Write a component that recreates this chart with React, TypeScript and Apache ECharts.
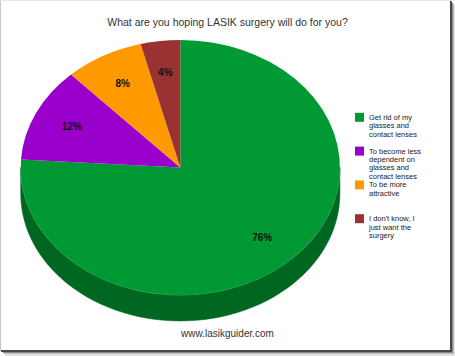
import React, { useEffect, useRef } from 'react';
import * as echarts from 'echarts';

const titleText = 'What are you hoping LASIK surgery will do for you?';
const footerText = 'www.lasikguider.com';
const categories = [
  'Get rid of my\nglasses and\ncontact lenses',
  'To become less\ndependent on\nglasses and\ncontact lenses',
  'To be more\nattractive',
  "I don't know, I\njust want the\nsurgery",
];
const values = [76, 12, 8, 4];
const colors = ['#009933', '#9900cc', '#ff9900', '#993333'];

const W = 455;
const H = 356;
const CX = 180.3;
const CY = 167.5;
const RX = 159.6;
const RY = 127.5;
const DEPTH = 26;
const LABEL_R = 0.75;
const FONT = '"Liberation Sans", Arial, Helvetica, sans-serif';
const LEGEND_LEFT = 355;
const LEGEND_TOP0 = 112.8;
const LEGEND_STEP = 33.8;
const LH = 8.4;

const total = values.reduce((a, b) => a + b, 0);

function shade(hex: string, f: number): string {
  const h = hex.replace('#', '');
  const r = parseInt(h.slice(0, 2), 16);
  const g = parseInt(h.slice(2, 4), 16);
  const b = parseInt(h.slice(4, 6), 16);
  const c = (v: number) => Math.max(0, Math.min(255, Math.round(f >= 1 ? v + (255 - v) * (f - 1) : v * f)));
  return `rgb(${c(r)},${c(g)},${c(b)})`;
}

function makeRender(i: number) {
  return (params: any, api: any) => {
    const v = api.value(0) as number;
    const before = values.slice(0, i).reduce((a, b) => a + b, 0);
    const a0 = -Math.PI / 2 + (2 * Math.PI * before) / total;
    const a1 = a0 + (2 * Math.PI * v) / total;
    const color = colors[i];
    const sideColor = shade(color, 0.67);
    const edgeColor = shade(color, 1.25);
    const children: any[] = [];
    for (let k = -1; k <= 1; k++) {
      const lo = Math.max(a0, 2 * Math.PI * k);
      const hi = Math.min(a1, 2 * Math.PI * k + Math.PI);
      if (hi > lo) {
        const N = 60;
        const top: number[][] = [];
        for (let s = 0; s <= N; s++) {
          const t = lo + ((hi - lo) * s) / N;
          top.push([CX + RX * Math.cos(t), CY + RY * Math.sin(t)]);
        }
        const bottom = top.map((p) => [p[0], p[1] + DEPTH]).reverse();
        children.push({
          type: 'polygon',
          shape: { points: top.concat(bottom) },
          style: { fill: sideColor, stroke: sideColor, lineWidth: 0.5 },
        });
        children.push({
          type: 'polyline',
          shape: { points: top },
          style: { stroke: edgeColor, lineWidth: 1, fill: null, opacity: 0.7 },
        });
      }
    }
    children.push({
      type: 'sector',
      x: CX,
      y: CY,
      scaleY: RY / RX,
      shape: { cx: 0, cy: 0, r: RX, r0: 0, startAngle: a0, endAngle: a1, clockwise: true },
      style: { fill: color },
    });
    const mid = (a0 + a1) / 2;
    children.push({
      type: 'text',
      x: CX + LABEL_R * RX * Math.cos(mid),
      y: CY + LABEL_R * RY * Math.sin(mid),
      style: {
        text: Math.round((v / total) * 100) + '%',
        fill: '#111',
        fontSize: 10,
        fontWeight: 'bold',
        fontFamily: FONT,
        align: 'center',
        verticalAlign: 'middle',
      },
    });
    return { type: 'group', children };
  };
}

export default function App() {
  const ref = useRef<HTMLDivElement>(null);
  useEffect(() => {
    if (!ref.current) return;
    const chart = echarts.init(ref.current, undefined, { renderer: 'svg', width: W, height: H });
    const legends = categories.map((c, i) => {
      const n = c.split('\n').length;
      return {
        data: [c],
        orient: 'vertical',
        left: LEGEND_LEFT,
        top: LEGEND_TOP0 + i * LEGEND_STEP + 4.5 - ((2 * n - 1) * LH) / 2,
        padding: 0,
        itemWidth: 9,
        itemHeight: 9,
        icon: 'rect',
        selectedMode: false,
        formatter: (name: string) => '\n'.repeat(n - 1) + name,
        textStyle: {
          fontSize: 7.5,
          lineHeight: LH,
          color: '#222',
          fontFamily: FONT,
        },
      };
    });
    chart.setOption({
      animation: false,
      backgroundColor: '#ffffff',
      title: [
        {
          text: titleText,
          left: 'center',
          top: 16,
          padding: 0,
          textStyle: { fontSize: 10.5, fontWeight: 'normal', color: '#333', fontFamily: FONT },
        },
        {
          text: footerText,
          left: 'center',
          top: 328,
          padding: 0,
          textStyle: { fontSize: 10, fontWeight: 'normal', color: '#333', fontFamily: FONT },
        },
      ],
      legend: legends,
      series: values.map((v, i) => ({
        type: 'custom',
        name: categories[i],
        coordinateSystem: 'none',
        data: [v],
        itemStyle: { color: colors[i] },
        silent: true,
        renderItem: makeRender(i),
      })),
      graphic: [
        { type: 'rect', shape: { x: 0, y: 0, width: 1, height: 351 }, style: { fill: '#c8c8c8' } },
        { type: 'rect', shape: { x: 0, y: 0, width: 451, height: 1 }, style: { fill: '#e4e4e4' } },
        { type: 'rect', shape: { x: 450, y: 1, width: 2, height: 352 }, style: { fill: '#4a4a4a' } },
        { type: 'rect', shape: { x: 1, y: 350, width: 451, height: 2 }, style: { fill: '#4a4a4a' } },
        { type: 'rect', shape: { x: 452, y: 3, width: 1, height: 351 }, style: { fill: '#8a8a8a' } },
        { type: 'rect', shape: { x: 3, y: 352, width: 450, height: 1 }, style: { fill: '#8a8a8a' } },
        { type: 'rect', shape: { x: 453, y: 4, width: 1, height: 351 }, style: { fill: '#bdbdbd' } },
        { type: 'rect', shape: { x: 4, y: 353, width: 450, height: 1 }, style: { fill: '#bdbdbd' } },
        { type: 'rect', shape: { x: 454, y: 5, width: 1, height: 351 }, style: { fill: '#e2e2e2' } },
        { type: 'rect', shape: { x: 5, y: 354, width: 450, height: 2 }, style: { fill: '#e2e2e2' } },
      ],
    });
    return () => chart.dispose();
  }, []);
  return (
    <div style={{ position: 'fixed', left: 0, top: 0, width: W, height: H, background: '#fff' }}>
      <div ref={ref} style={{ width: W, height: H }} />
    </div>
  );
}
